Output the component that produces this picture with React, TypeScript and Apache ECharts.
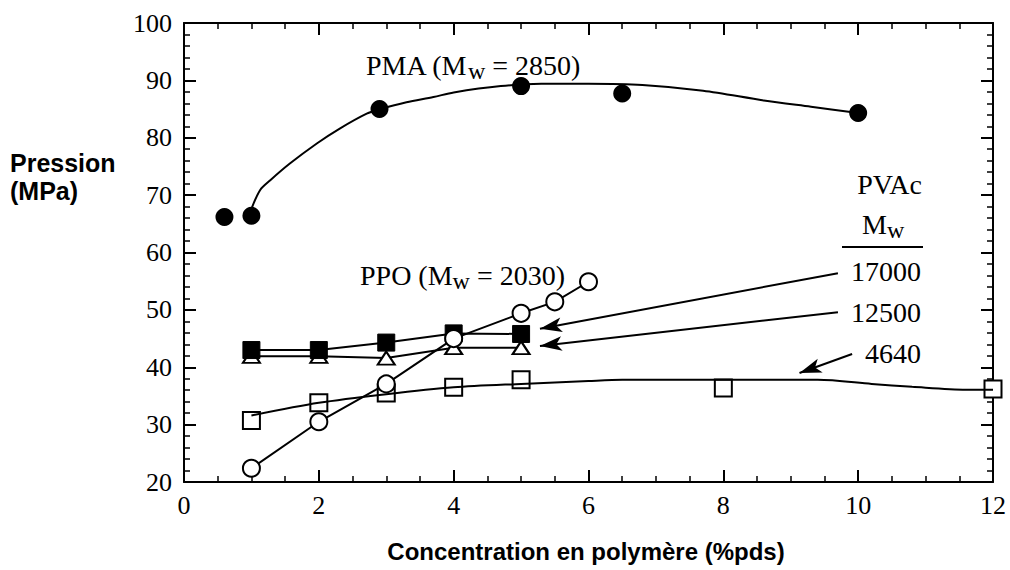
import { useEffect, useRef } from "react";
import * as echarts from "echarts";

// ---- data ----
const xMin = 0;
const xMax = 12;
const yMin = 20;
const yMax = 100;

const pmaPoints: number[][] = [[0.6, 66.2], [1.0, 66.4], [2.9, 85.0], [5.0, 89.0], [6.5, 87.7], [10.0, 84.3]];
const pmaFit: number[][] = [[1.0, 67.6], [1.13, 70.9], [1.28, 72.6], [1.57, 75.5], [1.97, 79.0], [2.31, 81.6], [2.71, 84.2], [2.91, 85.0], [3.3, 86.2], [3.7, 87.1], [4.0, 87.9], [4.7, 89.0], [5.3, 89.4], [6.0, 89.4], [6.8, 89.2], [7.7, 88.2], [8.6, 86.5], [9.3, 85.4], [10.0, 84.3]];
const ppo: number[][] = [[1, 22.4], [2, 30.5], [3, 37.1], [4, 45.0], [5, 49.4], [5.5, 51.4], [6, 54.9]];
const pvac17000: number[][] = [[1, 43.0], [2, 43.0], [3, 44.3], [4, 45.9], [5, 45.8]];
const pvac12500: number[][] = [[1, 41.9], [2, 41.9], [3, 41.6], [4, 43.4], [5, 43.4]];
const pvac4640: number[][] = [[1, 30.7], [2, 33.8], [3, 35.5], [4, 36.5], [5, 37.8], [8, 36.4], [12, 36.2]];
const pvac4640Fit: number[][] = [[1.0, 31.6], [2, 33.8], [3, 35.3], [4, 36.5], [5, 37.1], [6, 37.6], [6.5, 37.8], [9.4, 37.8], [10.2, 37.1], [10.8, 36.6], [11.6, 36.1], [12, 36.1]];

// arrows from the PVAc labels to their curves (data coordinates)
const arrows: number[][][] = [
  [[9.7, 56.4], [5.28, 46.7]],
  [[9.7, 49.6], [5.28, 43.7]],
  [[9.91, 42.3], [9.13, 39.0]],
];

const serif = "'Liberation Serif', 'Times New Roman', serif";
const sans = "'Liberation Sans', Arial, sans-serif";

function axisBase(minorSplit: number) {
  return {
    axisLine: { show: true, onZero: false, lineStyle: { color: "#000", width: 2 } },
    axisTick: { show: true, inside: true, length: 12, lineStyle: { color: "#000", width: 2 } },
    minorTick: { show: true, splitNumber: minorSplit, length: 6, lineStyle: { color: "#000", width: 1.5 } },
    splitLine: { show: false },
    minorSplitLine: { show: false },
  };
}

let measureCtx: CanvasRenderingContext2D | null = null;
function measure(text: string, size: number): number {
  if (!measureCtx) measureCtx = document.createElement("canvas").getContext("2d");
  if (!measureCtx) return text.length * size * 0.5;
  measureCtx.font = `${size}px ${serif}`;
  return measureCtx.measureText(text).width;
}

function plainText(x: number, y: number, text: string, font: string, size: number, weight: string, align: string) {
  return {
    type: "text",
    x,
    y,
    silent: true,
    style: {
      text,
      fontFamily: font,
      fontSize: size,
      fontWeight: weight,
      fill: "#000",
      align,
      verticalAlign: "middle",
      textAlign: align,
      textVerticalAlign: "middle",
    },
  };
}

// text with a lowered subscript, left-aligned at x, vertically centred on y
function subText(x: number, y: number, pre: string, sub: string, post: string) {
  const main = 28;
  const small = 24;
  const wPre = measure(pre, main);
  const wSub = measure(sub, small);
  const els: any[] = [plainText(x, y, pre, serif, main, "normal", "left")];
  els.push(plainText(x + wPre, y + 6, sub, serif, small, "normal", "left"));
  if (post) els.push(plainText(x + wPre + wSub, y, post, serif, main, "normal", "left"));
  return els;
}

export default function App() {
  const ref = useRef<HTMLDivElement>(null);

  useEffect(() => {
    if (!ref.current) return;
    const chart = echarts.init(ref.current, null, { renderer: "svg" });

    const xLabel = { show: true, fontFamily: serif, fontSize: 26, color: "#000", margin: 10 };
    const yLabel = { show: true, fontFamily: serif, fontSize: 26, color: "#000", margin: 12 };

    chart.setOption({
      animation: false,
      backgroundColor: "#fff",
      grid: { left: 184, top: 23, width: 809, height: 459, containLabel: false },
      xAxis: [
        { type: "value", min: xMin, max: xMax, interval: 2, position: "bottom", ...axisBase(4), axisLabel: xLabel },
        { type: "value", min: xMin, max: xMax, interval: 2, position: "top", ...axisBase(4), axisLabel: { show: false } },
      ],
      yAxis: [
        { type: "value", min: yMin, max: yMax, interval: 10, position: "left", ...axisBase(5), axisLabel: yLabel },
        { type: "value", min: yMin, max: yMax, interval: 10, position: "right", ...axisBase(5), axisLabel: { show: false } },
      ],
      series: [
        {
          name: "4640 fit",
          type: "line",
          data: pvac4640Fit,
          smooth: 0.3,
          showSymbol: false,
          lineStyle: { color: "#000", width: 2 },
          silent: true,
          markLine: {
            silent: true,
            symbol: ["none", "arrow"],
            symbolSize: [11, 22],
            label: { show: false },
            lineStyle: { color: "#000", width: 2, type: "solid" },
            emphasis: { disabled: true },
            data: arrows.map(([a, b]) => [{ coord: a }, { coord: b }]),
          },
        },
        {
          name: "4640",
          type: "scatter",
          data: pvac4640,
          symbol: "rect",
          symbolSize: 17,
          clip: false,
          itemStyle: { color: "#fff", borderColor: "#000", borderWidth: 2, opacity: 1 },
        },
        {
          name: "12500",
          type: "line",
          data: pvac12500,
          symbol: "triangle",
          symbolSize: [17, 13],
          showAllSymbol: true,
          lineStyle: { color: "#000", width: 2 },
          itemStyle: { color: "#fff", borderColor: "#000", borderWidth: 2, opacity: 1 },
        },
        {
          name: "17000",
          type: "line",
          data: pvac17000,
          symbol: "rect",
          symbolSize: 17,
          showAllSymbol: true,
          lineStyle: { color: "#000", width: 2 },
          itemStyle: { color: "#000", borderColor: "#000", borderWidth: 1, opacity: 1 },
        },
        {
          name: "PPO",
          type: "line",
          data: ppo,
          symbol: "circle",
          symbolSize: 17,
          showAllSymbol: true,
          lineStyle: { color: "#000", width: 2 },
          itemStyle: { color: "#fff", borderColor: "#000", borderWidth: 2, opacity: 1 },
        },
        {
          name: "PMA fit",
          type: "line",
          data: pmaFit,
          smooth: 0.3,
          showSymbol: false,
          lineStyle: { color: "#000", width: 2 },
          silent: true,
        },
        {
          name: "PMA",
          type: "scatter",
          data: pmaPoints,
          symbol: "circle",
          symbolSize: 18,
          clip: false,
          itemStyle: { color: "#000", opacity: 1 },
        },
      ],
      graphic: [
        ...subText(366, 65, "PMA (M", "w", " = 2850)"),
        ...subText(360, 275, "PPO (M", "w", " = 2030)"),
        plainText(922, 184, "PVAc", serif, 28, "normal", "right"),
        ...subText(862, 224, "M", "w", ""),
        {
          type: "line",
          silent: true,
          shape: { x1: 842, y1: 247, x2: 923, y2: 247 },
          style: { stroke: "#000", lineWidth: 2 },
        },
        plainText(921, 271, "17000", serif, 28, "normal", "right"),
        plainText(921, 312, "12500", serif, 28, "normal", "right"),
        plainText(921, 353, "4640", serif, 28, "normal", "right"),
        plainText(10, 163, "Pression", sans, 25, "bold", "left"),
        plainText(10, 191, "(MPa)", sans, 25, "bold", "left"),
        plainText(586, 551, "Concentration en polymère (%pds)", sans, 24, "bold", "center"),
      ],
    });

    return () => chart.dispose();
  }, []);

  return (
    <div
      ref={ref}
      style={{ position: "fixed", left: 0, top: 0, width: 1010, height: 570, background: "#fff" }}
    />
  );
}
